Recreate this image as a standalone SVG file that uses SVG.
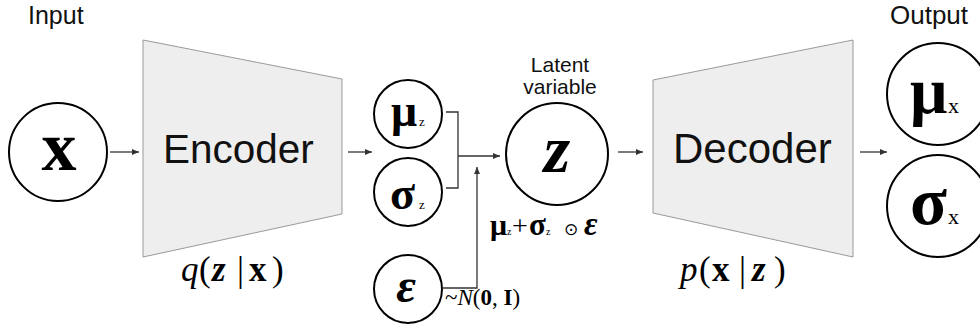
<svg xmlns="http://www.w3.org/2000/svg" width="980" height="333" viewBox="0 0 980 333">
<defs>
<marker id="ah" markerWidth="7" markerHeight="6" refX="7" refY="3" orient="auto" markerUnits="userSpaceOnUse"><path d="M0,0 L7,3 L0,6 z" fill="#333"/></marker>
</defs>
<style>
.lbl{font-family:"Liberation Sans",Arial,sans-serif;fill:#111}
.m{font-family:"Liberation Serif","Times New Roman",serif;fill:#000}
.b{font-weight:bold}
.i{font-style:italic}
.sym{font-family:"DejaVu Sans",sans-serif}
.node{fill:#fff;stroke:#000;stroke-width:2}
.trap{fill:#eee;stroke:#999;stroke-width:1}
.conn{fill:none;stroke:#333;stroke-width:1.3}
</style>
<rect width="980" height="333" fill="#fff"/>

<text class="lbl" x="28" y="24" font-size="25">Input</text>
<text class="lbl" x="890" y="24" font-size="26">Output</text>

<g id="x-input">
<circle class="node" cx="58" cy="152" r="49"/>
<text class="m b" x="59" y="170" font-size="70" text-anchor="middle">x</text>
</g>

<g id="encoder">
<polygon class="trap" points="143,40 342,79 342,214 143,257"/>
<text class="lbl" x="163" y="163" font-size="40.5">Encoder</text>
<text class="m" y="281" font-size="35"><tspan class="i" x="181">q</tspan><tspan x="199">(</tspan><tspan class="b i" x="212">z</tspan><tspan x="237">|</tspan><tspan class="b" x="249">x</tspan><tspan x="272">)</tspan></text>
</g>

<g id="mu-z">
<circle class="node" cx="408" cy="114" r="34"/>
<text class="m" y="126"><tspan class="b" x="391" font-size="46">μ</tspan><tspan x="419" font-size="13">z</tspan></text>
</g>

<g id="sigma-z">
<circle class="node" cx="408" cy="192" r="34"/>
<text class="m" y="209"><tspan class="b" x="390" font-size="46">σ</tspan><tspan x="419" font-size="13">z</tspan></text>
</g>

<g id="epsilon">
<circle class="node" cx="408" cy="289" r="34"/>
<text class="m b i" x="406" y="302" font-size="48" text-anchor="middle">ε</text>
<text class="m" y="305" font-size="23"><tspan x="445">~</tspan><tspan class="i">N</tspan><tspan>(</tspan><tspan class="b">0</tspan><tspan>, </tspan><tspan class="b">I</tspan><tspan>)</tspan></text>
</g>

<g id="z-latent">
<text class="lbl" x="560" y="72" font-size="21" text-anchor="middle">Latent</text>
<text class="lbl" x="560" y="94" font-size="21" text-anchor="middle">variable</text>
<circle class="node" cx="557" cy="154" r="51"/>
<text class="m b i" x="557" y="172" font-size="68" text-anchor="middle">z</text>
<text class="m" y="235"><tspan class="b" x="490" font-size="30">μ</tspan><tspan x="507" font-size="10">z</tspan><tspan x="512" font-size="28">+</tspan><tspan class="b" x="529" font-size="31">σ</tspan><tspan x="546" font-size="10">z</tspan><tspan class="sym" x="564" font-size="17">⊙</tspan><tspan class="b i" x="584" font-size="33">ε</tspan></text>
</g>

<g id="decoder">
<polygon class="trap" points="653,80 853,40 853,257 653,213"/>
<text class="lbl" x="673" y="163" font-size="42">Decoder</text>
<text class="m" y="281" font-size="35"><tspan class="i" x="680">p</tspan><tspan x="699">(</tspan><tspan class="b" x="712">x</tspan><tspan x="739">|</tspan><tspan class="b i" x="752">z</tspan><tspan x="774">)</tspan></text>
</g>

<g id="mu-x">
<circle class="node" cx="938" cy="94" r="51"/>
<text class="m" y="113"><tspan class="b" x="910" font-size="66">μ</tspan><tspan x="948" font-size="22">x</tspan></text>
</g>

<g id="sigma-x">
<circle class="node" cx="938" cy="206" r="51"/>
<text class="m" y="224"><tspan class="b" x="910" font-size="68">σ</tspan><tspan x="948" font-size="22">x</tspan></text>
</g>

<g id="connectors">
<line class="conn" x1="110" y1="152" x2="139" y2="152" marker-end="url(#ah)"/>
<line class="conn" x1="348" y1="152" x2="372" y2="152" marker-end="url(#ah)"/>
<polyline class="conn" points="446,112 458,112 458,188 446,188"/>
<line class="conn" x1="458" y1="156" x2="500" y2="156" marker-end="url(#ah)"/>
<polyline class="conn" points="442,288 477,288 477,167" marker-end="url(#ah)"/>
<line class="conn" x1="618" y1="152" x2="643" y2="152" marker-end="url(#ah)"/>
<line class="conn" x1="860" y1="152" x2="887" y2="152" marker-end="url(#ah)"/>
</g>
</svg>
